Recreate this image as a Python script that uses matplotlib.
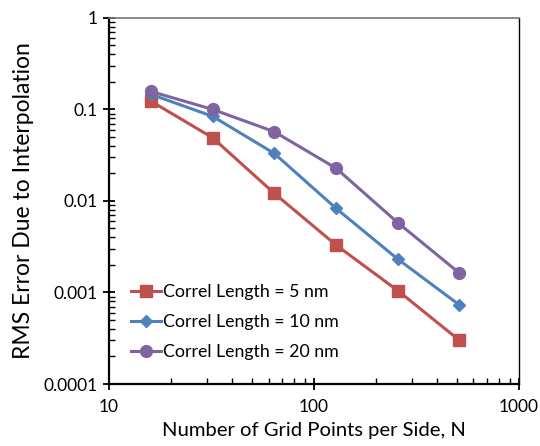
import matplotlib.pyplot as plt
from matplotlib.ticker import LogLocator, NullFormatter, FixedLocator, FixedFormatter

plt.rcParams['font.family'] = ['Lato', 'DejaVu Sans']

n_points = [16, 32, 64, 128, 256, 512]
err_5nm = [0.123, 0.049, 0.0121, 0.0033, 0.00105, 0.0003]
err_10nm = [0.146, 0.084, 0.033, 0.0083, 0.00232, 0.00073]
err_20nm = [0.157, 0.100, 0.057, 0.0228, 0.0058, 0.00163]
series_labels = ['Correl Length = 5 nm', 'Correl Length = 10 nm', 'Correl Length = 20 nm']

x_ticks = [10, 100, 1000]
x_tick_labels = ['10', '100', '1000']
y_ticks = [0.0001, 0.001, 0.01, 0.1, 1]
y_tick_labels = ['0.0001', '0.001', '0.01', '0.1', '1']


def main():
    fig = plt.figure(figsize=(5.4, 4.46), dpi=100)
    ax = fig.add_axes([0.202, 0.139, 0.759, 0.821])

    ax.plot(n_points, err_5nm, color='#C0504D', marker='s', markersize=8, lw=2.2, label=series_labels[0])
    ax.plot(n_points, err_10nm, color='#4F81BD', marker='D', markersize=6, lw=2.2, label=series_labels[1])
    ax.plot(n_points, err_20nm, color='#8064A2', marker='o', markersize=8.5, lw=2.2, label=series_labels[2])

    ax.set_xscale('log')
    ax.set_yscale('log')
    ax.set_xlim(10, 1000)
    ax.set_ylim(0.0001, 1)

    ax.xaxis.set_major_locator(FixedLocator(x_ticks))
    ax.xaxis.set_major_formatter(FixedFormatter(x_tick_labels))
    ax.yaxis.set_major_locator(FixedLocator(y_ticks))
    ax.yaxis.set_major_formatter(FixedFormatter(y_tick_labels))
    ax.xaxis.set_minor_locator(LogLocator(base=10, subs=range(2, 10)))
    ax.yaxis.set_minor_locator(LogLocator(base=10, subs=range(2, 10)))
    ax.xaxis.set_minor_formatter(NullFormatter())
    ax.yaxis.set_minor_formatter(NullFormatter())

    ax.tick_params(which='major', direction='inout', length=9, width=1.3, labelsize=12.5, colors='black')
    ax.tick_params(which='minor', direction='in', length=4.5, width=1.0)
    ax.tick_params(axis='x', which='major', pad=6)

    for side in ['left', 'bottom']:
        ax.spines[side].set_linewidth(1.6)
    ax.spines['right'].set_linewidth(1.0)
    ax.spines['top'].set_linewidth(1.2)
    ax.spines['top'].set_color('#777777')

    ax.set_xlabel('Number of Grid Points per Side, N', fontsize=14.6, labelpad=5)
    ax.set_ylabel('RMS Error Due to Interpolation', fontsize=16.5, labelpad=7)

    ax.legend(loc='lower left', bbox_to_anchor=(0.035, 0.045), frameon=False, fontsize=12.8,
              handlelength=1.7, handletextpad=0.15, labelspacing=0.8, borderaxespad=0)

    fig.savefig('out.png', dpi=100)


if __name__ == "__main__":
    main()
